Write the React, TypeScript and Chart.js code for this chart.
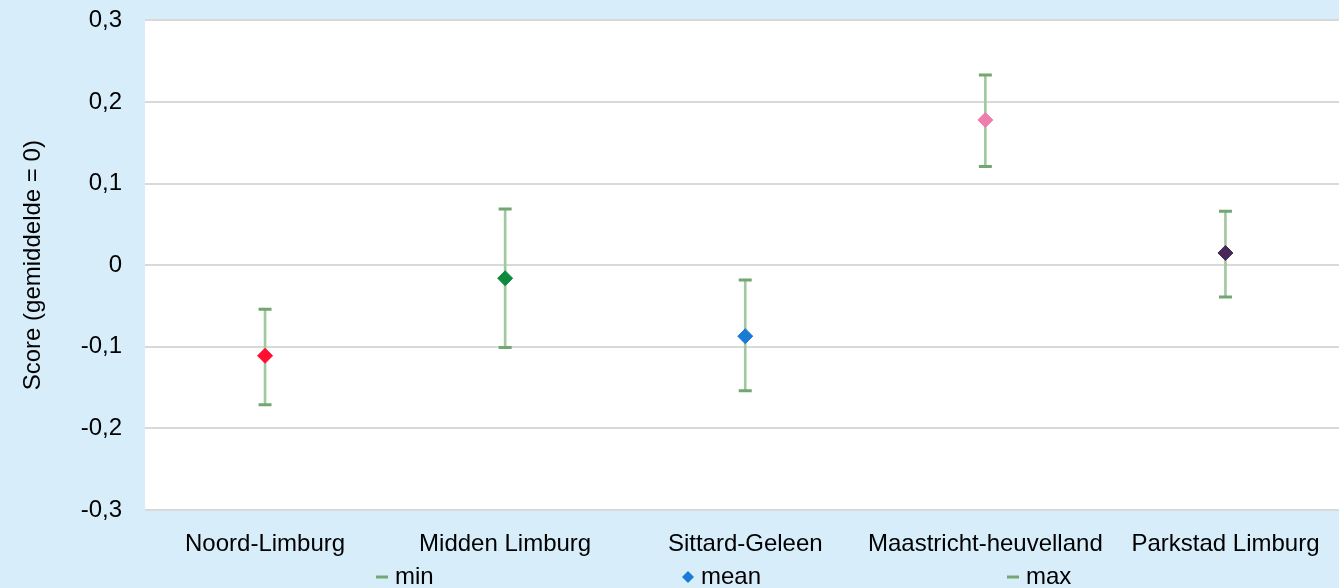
import React, { useEffect, useRef } from "react";
import { Chart, registerables } from "chart.js";

Chart.register(...registerables);

const categories = [
  "Noord-Limburg",
  "Midden Limburg",
  "Sittard-Geleen",
  "Maastricht-heuvelland",
  "Parkstad Limburg",
];
const meanValues = [-0.111, -0.016, -0.087, 0.178, 0.015];
const minValues = [-0.171, -0.101, -0.154, 0.121, -0.039];
const maxValues = [-0.054, 0.069, -0.018, 0.233, 0.066];
const meanColors = ["#fe0f2f", "#0f8a3c", "#1a7ad4", "#ee7fad", "#472a58"];
const yTicks = [-0.3, -0.2, -0.1, 0, 0.1, 0.2, 0.3];
const legendLabels = ["min", "mean", "max"];

const FONT = '"Liberation Sans", Arial, Helvetica, sans-serif';
const FS = 24;
const BG = "#d7edfa";
const CAP = "#72a672";
const WHISKER = "#a0c9a0";

const fmt = (v: number) => {
  if (Math.abs(v) < 1e-9) return "0";
  return v.toFixed(1).replace(".", ",");
};

const bgPlugin = {
  id: "bgPlugin",
  beforeDraw(chart: any) {
    const { ctx, chartArea } = chart;
    ctx.save();
    ctx.fillStyle = BG;
    ctx.fillRect(0, 0, chart.width, chart.height);
    ctx.fillStyle = "#ffffff";
    ctx.fillRect(chartArea.left, chartArea.top, chartArea.right - chartArea.left, chartArea.bottom - chartArea.top);
    ctx.restore();
  },
};

const legendPlugin = {
  id: "customLegend",
  afterDraw(chart: any) {
    const { ctx } = chart;
    const kinds = ["line", "diamond", "line"];
    const colors = [CAP, meanColors[2], CAP];
    const starts = [376, 682, 1007];
    ctx.save();
    ctx.font = `${FS}px ${FONT}`;
    ctx.textBaseline = "middle";
    const y = 577;
    const marker = 12;
    const gapText = 7;
    legendLabels.forEach((label, i) => {
      const x = starts[i];
      if (kinds[i] === "line") {
        ctx.strokeStyle = colors[i];
        ctx.lineWidth = 3;
        ctx.beginPath();
        ctx.moveTo(x, y);
        ctx.lineTo(x + marker, y);
        ctx.stroke();
      } else {
        const cx = x + marker / 2;
        const r = 6;
        ctx.fillStyle = colors[i];
        ctx.beginPath();
        ctx.moveTo(cx - r, y);
        ctx.lineTo(cx, y - r);
        ctx.lineTo(cx + r, y);
        ctx.lineTo(cx, y + r);
        ctx.closePath();
        ctx.fill();
      }
      ctx.fillStyle = "#000";
      ctx.fillText(label, x + marker + gapText, y);
    });
    ctx.restore();
  },
};

export default function App() {
  const ref = useRef<HTMLCanvasElement | null>(null);

  useEffect(() => {
    document.body.style.margin = "0";
    document.body.style.overflow = "hidden";
    document.documentElement.style.overflow = "hidden";
    const canvas = ref.current;
    if (!canvas) return;
    const ranges = minValues.map((m, i) => [m, maxValues[i]]);
    const chart = new Chart(canvas, {
      type: "bar",
      data: {
        labels: categories,
        datasets: [
          {
            type: "line",
            label: "mean",
            data: meanValues,
            showLine: false,
            pointStyle: "rectRot",
            pointRadius: 7.5,
            pointBackgroundColor: meanColors,
            pointBorderColor: meanColors,
            pointBorderWidth: 1,
            order: 0,
          } as any,
          {
            type: "line",
            label: "min",
            data: minValues,
            showLine: false,
            pointStyle: "line",
            pointRadius: 6.5,
            pointBorderColor: CAP,
            pointBorderWidth: 3,
            order: 1,
          } as any,
          {
            type: "line",
            label: "max",
            data: maxValues,
            showLine: false,
            pointStyle: "line",
            pointRadius: 6.5,
            pointBorderColor: CAP,
            pointBorderWidth: 3,
            order: 1,
          } as any,
          {
            type: "bar",
            label: "range",
            data: ranges,
            backgroundColor: WHISKER,
            barThickness: 2,
            borderWidth: 0,
            order: 2,
          } as any,
        ],
      },
      options: {
        responsive: false,
        animation: false,
        events: [],
        layout: { padding: { top: 3, right: 0, bottom: 0, left: 0 } },
        plugins: {
          legend: { display: false },
          tooltip: { enabled: false },
        },
        scales: {
          x: {
            grid: { display: false, drawTicks: false },
            border: { display: false },
            ticks: {
              color: "#000",
              font: { family: FONT, size: FS },
              padding: 20,
              maxRotation: 0,
              autoSkip: false,
            },
            afterFit(scale: any) {
              scale.height = 78;
            },
          },
          y: {
            min: -0.3,
            max: 0.3,
            afterBuildTicks(scale: any) {
              scale.ticks = yTicks.map((v) => ({ value: v }));
            },
            grid: {
              color: "#d9d9d9",
              lineWidth: 2,
              drawTicks: true,
              tickLength: 17,
              tickColor: "rgba(0,0,0,0)",
            },
            border: { display: false },
            ticks: {
              color: "#000",
              font: { family: FONT, size: FS },
              padding: 6,
              callback: (v: any) => fmt(Number(v)),
            },
            title: {
              display: true,
              text: "Score (gemiddelde = 0)",
              color: "#000",
              font: { family: FONT, size: FS },
              padding: { top: 19, bottom: 0 },
            },
            afterFit(scale: any) {
              scale.width = 145;
            },
          },
        },
      },
      plugins: [bgPlugin, legendPlugin],
    });
    return () => chart.destroy();
  }, []);

  return (
    <div style={{ width: 1355, height: 588, overflow: "hidden" }}>
      <canvas ref={ref} width={1355} height={588} style={{ display: "block", width: 1355, height: 588 }} />
    </div>
  );
}
